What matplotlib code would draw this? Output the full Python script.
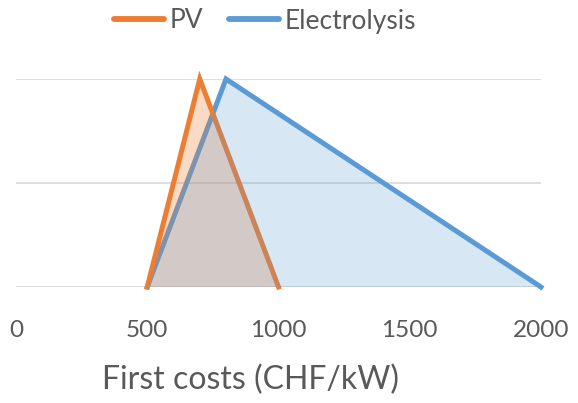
import matplotlib.pyplot as plt

plt.rcParams['font.family'] = ['Lato', 'DejaVu Sans']

# triangular distributions (min, mode, max), normalised to peak 1
pv_x = [500, 700, 1000]
pv_y = [0, 1, 0]
el_x = [500, 800, 2000]
el_y = [0, 1, 0]
xticks = [0, 500, 1000, 1500, 2000]

orange = '#ED7D31'
blue = '#5B9BD5'
grey_text = '#595959'

fig = plt.figure(figsize=(5.78, 4.03), dpi=100)
ax = fig.add_axes([16/578, 116/403, 525/578, 208/403])

# draw order copies the original: blue outline, PV area, PV outline, blue area
ax.plot(el_x, el_y, color=blue, lw=3.6, solid_joinstyle='miter', zorder=2, clip_on=False)
ax.fill(pv_x, pv_y, color=orange, alpha=0.28, lw=0, zorder=3)
ax.plot(pv_x, pv_y, color=orange, lw=3.6, solid_joinstyle='miter', zorder=4, clip_on=False,
        label='PV')
ax.fill(el_x, el_y, color=blue, alpha=0.24, lw=0, zorder=5)
ax.plot([], [], color=blue, lw=3.6, label='Electrolysis')

ax.set_xlim(0, 2000)
ax.set_ylim(0, 1)
ax.set_xticks(xticks)
ax.set_yticks([0, 0.5, 1])
ax.set_yticklabels([])
ax.grid(axis='y', color='#D9D9D9', lw=1.2, zorder=0)
for s in ax.spines.values():
    s.set_visible(False)
ax.tick_params(axis='both', length=0, labelsize=17.5, colors=grey_text, pad=24)

ax.set_xlabel('First costs (CHF/kW)', fontsize=23, color=grey_text)
ax.xaxis.set_label_coords((251 - 16) / 525, -0.375)

leg = fig.legend(loc='center', bbox_to_anchor=(265/578, 1 - 21/403), ncol=2, frameon=False,
                 fontsize=19, handlelength=1.9, handletextpad=0.2, columnspacing=1.0,
                 labelcolor=grey_text)
for h in leg.get_lines():
    h.set_solid_capstyle('round')
    h.set_linewidth(4.2)

fig.savefig('out.png', dpi=100)
